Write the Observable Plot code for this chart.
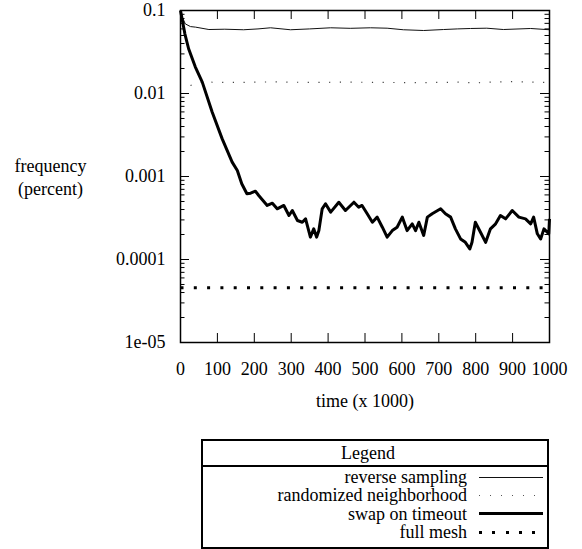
<!DOCTYPE html>
<html>
<head>
<meta charset="utf-8">
<script src="https://cdn.jsdelivr.net/npm/d3@7"></script>
<script src="https://cdn.jsdelivr.net/npm/@observablehq/plot@0.6"></script>
<style>
  html, body { margin: 0; padding: 0; background: #fff; }
</style>
</head>
<body>
<div id="wrap" style="position:relative;width:582px;height:549px;font-family:'Liberation Serif','Times New Roman','DejaVu Serif','Noto Serif',serif;color:#000"></div>
<script>
// ---- data ----
const seriesNames = ["reverse sampling", "randomized neighborhood", "swap on timeout", "full mesh"];

const reverseSampling = [
  [0, 0.1], [4, 0.085], [13, 0.069], [27, 0.064], [41, 0.063], [77, 0.059], [120, 0.0595],
  [171, 0.0586], [210, 0.0600], [244, 0.0619], [298, 0.0586], [350, 0.0600], [407, 0.0619],
  [460, 0.0610], [515, 0.0619], [560, 0.0612], [604, 0.0586], [659, 0.0574], [713, 0.0590],
  [750, 0.0600], [786, 0.0607], [830, 0.0612], [875, 0.0590], [949, 0.0607], [1000, 0.0586]
];

const randomizedNeighborhood = [
  [27, 0.0125], [60, 0.0137], [150, 0.0136], [250, 0.0138], [350, 0.0136], [450, 0.0137],
  [550, 0.0136], [650, 0.0135], [750, 0.0137], [800, 0.0134], [850, 0.0138], [900, 0.0139], [1000, 0.0136]
];

const swapOnTimeout = [
  [0, 0.1], [12, 0.052], [22, 0.0346], [40, 0.021], [59, 0.0137], [86, 0.00596], [113, 0.00284], [140, 0.00149],
  [154, 0.00118], [166, 0.000817], [180, 0.00062], [190, 0.00063], [203, 0.000665], [212, 0.00059],
  [235, 0.000448], [249, 0.000477], [262, 0.000408], [280, 0.000448], [294, 0.000339],
  [303, 0.000389], [317, 0.000295], [330, 0.000281], [339, 0.000309], [352, 0.000186],
  [361, 0.000234], [369, 0.000186], [375, 0.000223], [384, 0.000408], [393, 0.000469],
  [407, 0.000372], [429, 0.00049], [447, 0.000389], [470, 0.00049], [483, 0.000427],
  [492, 0.000448], [506, 0.000356], [520, 0.000281], [533, 0.000324], [547, 0.000245],
  [560, 0.000186], [574, 0.000223], [587, 0.000245], [601, 0.000324], [614, 0.000223],
  [628, 0.000269], [637, 0.000223], [646, 0.000281], [659, 0.000195], [669, 0.000324],
  [682, 0.000356], [705, 0.000408], [718, 0.000356], [732, 0.000324], [745, 0.000234],
  [759, 0.000177], [772, 0.000161], [784, 0.000134], [790, 0.000161], [799, 0.000281],
  [813, 0.000213], [827, 0.000161], [840, 0.000234], [854, 0.000269], [867, 0.000339],
  [881, 0.000309], [899, 0.000389], [917, 0.000324], [935, 0.000309], [949, 0.000269],
  [957, 0.000324], [967, 0.000204], [976, 0.000177], [985, 0.000234], [998, 0.000204], [1000, 0.000309]
];

const fullMesh = [[0, 0.0000456], [1000, 0.0000456]];

const xTicks = [0, 100, 200, 300, 400, 500, 600, 700, 800, 900, 1000];
const yMajor = [1e-5, 1e-4, 1e-3, 1e-2, 1e-1];
const yTickLabels = ["1e-05", "0.0001", "0.001", "0.01", "0.1"];
const yMinor = [2e-5, 3e-5, 4e-5, 5e-5, 6e-5, 7e-5, 8e-5, 9e-5,
  2e-4, 3e-4, 4e-4, 5e-4, 6e-4, 7e-4, 8e-4, 9e-4,
  2e-3, 3e-3, 4e-3, 5e-3, 6e-3, 7e-3, 8e-3, 9e-3,
  2e-2, 3e-2, 4e-2, 5e-2, 6e-2, 7e-2, 8e-2, 9e-2];
const xLabel = "time (x 1000)";
const yLabel = "frequency\n(percent)";
const legendTitle = "Legend";

// ---- layout & styles ----
const FONT = "'Liberation Serif', 'Times New Roman', 'DejaVu Serif', 'Noto Serif', serif";
const W = 582, H = 439, ML = 180, MR = 33, MT = 10, MB = 97;
const FW = W - ML - MR, FH = H - MT - MB;
const MAJOR = 9, MINOR = 4.5;
const seriesStyles = [
  {stroke: "#111", strokeWidth: 1, dash: null},
  {stroke: "#444", strokeWidth: 1.2, dash: "1.2 9.5"},
  {stroke: "#000", strokeWidth: 3, dash: null},
  {stroke: "#000", strokeWidth: 3, dash: "3 10.3"}
];
const legendSwatches = [
  "height:1px;background:#111",
  "height:1px;background:repeating-linear-gradient(to right,#555 0 1.2px,transparent 1.2px 11px)",
  "height:3px;background:#000",
  "height:3px;background:repeating-linear-gradient(to right,#000 0 3px,transparent 3px 13.3px)"
];
const seriesData = [reverseSampling, randomizedNeighborhood, swapOnTimeout, fullMesh];

const lineMarks = seriesData.map((data, i) => Plot.line(data, {
  x: d => d[0], y: d => d[1],
  stroke: seriesStyles[i].stroke,
  strokeWidth: seriesStyles[i].strokeWidth,
  strokeDasharray: seriesStyles[i].dash,
  strokeLinecap: "butt"
}));

// inward, mirrored tick marks as standard Plot tick marks with insets
const tickStyle = {stroke: "black", strokeWidth: 1};
const tickMarks = [
  Plot.tickX(xTicks, {x: d => d, insetTop: FH - MAJOR, ...tickStyle}),
  Plot.tickX(xTicks, {x: d => d, insetBottom: FH - MAJOR, ...tickStyle}),
  Plot.tickY(yMajor, {y: d => d, insetRight: FW - MAJOR, ...tickStyle}),
  Plot.tickY(yMajor, {y: d => d, insetLeft: FW - MAJOR, ...tickStyle}),
  Plot.tickY(yMinor, {y: d => d, insetRight: FW - MINOR, ...tickStyle}),
  Plot.tickY(yMinor, {y: d => d, insetLeft: FW - MINOR, ...tickStyle})
];

const chart = Plot.plot({
  width: W, height: H,
  marginLeft: ML, marginRight: MR, marginTop: MT, marginBottom: MB,
  style: {fontFamily: FONT, fontSize: "18px", background: "white", color: "black"},
  x: {domain: [0, 1000]},
  y: {type: "log", domain: [1e-5, 0.1]},
  marks: [
    ...lineMarks,
    ...tickMarks,
    Plot.frame({stroke: "black", strokeWidth: 1.5}),
    Plot.axisX({ticks: xTicks, tickSize: 0, tickPadding: 20, label: null, tickFormat: d => String(d)}),
    Plot.axisY({ticks: yMajor, tickSize: 0, tickPadding: 15, label: null, tickFormat: d => yTickLabels[yMajor.indexOf(d)]}),
    Plot.text([yLabel], {frameAnchor: "left", dx: -130, text: d => d, textAnchor: "middle", lineAnchor: "middle", lineHeight: 1.25}),
    Plot.text([xLabel], {frameAnchor: "bottom", dy: 59, text: d => d, lineAnchor: "middle"})
  ]
});

const wrap = document.getElementById("wrap");
wrap.appendChild(chart);

// ---- legend (plain HTML) ----
const legend = document.createElement("div");
legend.style.cssText = "position:absolute;left:201px;top:439px;width:348px;height:110px;border:2px solid #000;box-sizing:border-box;font-size:18px;font-family:" + FONT + ";background:#fff";
const title = document.createElement("div");
title.textContent = legendTitle;
title.style.cssText = "height:24px;line-height:24px;text-align:center;border-bottom:2px solid #000;padding-right:14px";
legend.appendChild(title);
const rows = document.createElement("div");
rows.style.cssText = "padding-top:1px";
seriesNames.forEach((name, i) => {
  const row = document.createElement("div");
  row.style.cssText = "height:18.3px;display:flex;align-items:center";
  const label = document.createElement("span");
  label.textContent = name;
  label.style.cssText = "width:264px;text-align:right;white-space:nowrap;line-height:18px";
  const sw = document.createElement("div");
  sw.style.cssText = "margin-left:12px;width:64px;" + legendSwatches[i];
  row.appendChild(label);
  row.appendChild(sw);
  rows.appendChild(row);
});
legend.appendChild(rows);
wrap.appendChild(legend);
</script>
</body>
</html>
